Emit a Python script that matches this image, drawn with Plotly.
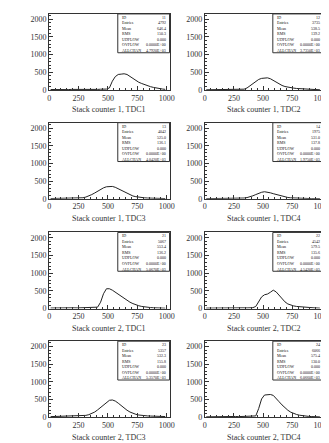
import plotly.graph_objects as go
import numpy as np

# ---- data ----
bin_centers = [12.5 + 25 * k for k in range(40)]

titles = ["Stack counter 1, TDC1", "Stack counter 1, TDC2",
          "Stack counter 1, TDC3", "Stack counter 1, TDC4",
          "Stack counter 2, TDC1", "Stack counter 2, TDC2",
          "Stack counter 2, TDC3", "Stack counter 2, TDC4"]

sc1_tdc1 = [15, 12, 18, 14, 20, 16, 13, 19, 17, 15, 21, 14, 18, 16, 20, 22, 19, 24, 21, 28,
            60, 250, 380, 440, 450, 460, 440, 380, 320, 260, 220, 185, 150, 120, 95, 75, 55, 40, 30, 20]
sc1_tdc2 = [8, 10, 9, 12, 10, 11, 13, 12, 14, 12, 15, 16, 18, 25, 60, 120, 190, 250, 300, 330,
            340, 345, 320, 270, 220, 170, 130, 100, 80, 65, 55, 45, 40, 30, 25, 20, 15, 12, 10, 8]
sc1_tdc3 = [8, 9, 10, 9, 11, 10, 12, 11, 13, 14, 18, 30, 50, 80, 120, 165, 215, 265, 310, 340,
            355, 350, 325, 285, 240, 190, 145, 110, 80, 60, 45, 35, 28, 22, 18, 15, 12, 10, 9, 8]
sc1_tdc4 = [5, 6, 5, 7, 6, 7, 8, 7, 9, 8, 10, 12, 15, 22, 35, 55, 85, 120, 155, 185,
            200, 190, 170, 145, 120, 95, 70, 50, 38, 28, 22, 18, 14, 12, 10, 8, 7, 6, 5, 5]
sc2_tdc1 = [15, 18, 14, 20, 17, 22, 19, 16, 21, 18, 23, 20, 25, 22, 27, 30, 40, 180, 420, 560,
            560, 520, 460, 400, 340, 280, 230, 180, 140, 105, 80, 60, 45, 35, 28, 22, 18, 15, 12, 10]
sc2_tdc2 = [12, 14, 11, 15, 13, 16, 14, 17, 15, 18, 16, 19, 17, 20, 18, 22, 25, 60, 200, 330,
            390, 410, 460, 520, 470, 370, 270, 190, 130, 95, 75, 60, 50, 42, 35, 30, 25, 20, 16, 12]
sc2_tdc3 = [20, 22, 25, 23, 26, 28, 27, 30, 32, 35, 38, 45, 55, 75, 105, 150, 210, 280, 360, 430,
            480, 490, 460, 400, 330, 260, 200, 150, 110, 85, 65, 52, 45, 40, 36, 33, 30, 28, 25, 22]
sc2_tdc4 = [14, 17, 15, 19, 16, 20, 18, 22, 19, 21, 24, 20, 23, 26, 24, 28, 30, 40, 250, 520,
            630, 640, 645, 620, 540, 440, 350, 270, 200, 145, 105, 80, 60, 45, 35, 28, 22, 18, 15, 12]

series = [sc1_tdc1, sc1_tdc2, sc1_tdc3, sc1_tdc4, sc2_tdc1, sc2_tdc2, sc2_tdc3, sc2_tdc4]
hist_ids = ["11", "12", "13", "14", "21", "22", "23", "24"]
stat_labels = ["ID", "Entries", "Mean", "RMS", "UDFLOW", "OVFLOW", "ALLCHAN"]

x_ticks = [0, 250, 500, 750, 1000]
y_ticks = [0, 500, 1000, 1500, 2000]

# ---- layout geometry (pixels) ----
W, H = 329, 443
col_x = [(40, 163), (199, 321)]
row_bottom = [83, 193, 304, 414]
frame_h = 77

fig = go.Figure()
font_fam = "Liberation Serif"

for i, (vals, title) in enumerate(zip(series, titles)):
    r, c = divmod(i, 2)
    n = i + 1
    xa = "xaxis" if n == 1 else f"xaxis{n}"
    ya = "yaxis" if n == 1 else f"yaxis{n}"
    xr = "x" if n == 1 else f"x{n}"
    yr = "y" if n == 1 else f"y{n}"
    x0, x1 = col_x[c]
    yb = row_bottom[r]
    yt = yb - frame_h
    fig.add_trace(go.Scatter(x=bin_centers, y=vals, mode="lines",
                             line=dict(color="#222", width=1),
                             xaxis=xr, yaxis=yr, showlegend=False))
    fig.layout[xa] = dict(domain=[x0 / W, x1 / W], anchor=yr, range=[0, 1024],
                          tickvals=x_ticks, ticks="inside", ticklen=4, tickcolor="#333",
                          minor=dict(dtick=50, ticks="inside", ticklen=2, tickcolor="#333"),
                          showgrid=False, zeroline=False, showline=True, linecolor="#333",
                          linewidth=1, mirror=True,
                          tickfont=dict(family=font_fam, size=8, color="#333"))
    fig.layout[ya] = dict(domain=[1 - yb / H, 1 - yt / H], anchor=xr, range=[0, 2150],
                          tickvals=y_ticks, ticks="inside", ticklen=4, tickcolor="#333",
                          minor=dict(dtick=100, ticks="inside", ticklen=2, tickcolor="#333"),
                          showgrid=False, zeroline=False, showline=True, linecolor="#333",
                          linewidth=1, mirror=True,
                          tickfont=dict(family=font_fam, size=8, color="#333"))
    # title below
    fig.add_annotation(x=(x0 + x1) / 2 / W, y=1 - (yb + 20) / H, xref="paper", yref="paper",
                       text=title, showarrow=False, xanchor="center", yanchor="middle",
                       font=dict(family=font_fam, size=8, color="#333"))
    # stats box
    bx0, by0 = 0.57, 0.49
    fig.add_shape(type="rect", xref=f"{xr} domain", yref=f"{yr} domain",
                  x0=bx0, x1=1, y0=by0, y1=1, line=dict(color="#333", width=1),
                  fillcolor="white")
    arr = np.array(vals, dtype=float)
    cx = np.array(bin_centers)
    entries = int(arr.sum())
    mean = (arr * cx).sum() / arr.sum()
    rms = np.sqrt((arr * (cx - mean) ** 2).sum() / arr.sum())
    stat_vals = [hist_ids[i], str(entries), f"{mean:.1f}", f"{rms:.1f}",
                 "0.000", "0.0000E+00", f"{arr.sum():.4E}"]
    for k, (lab, v) in enumerate(zip(stat_labels, stat_vals)):
        yy = 1 - (k + 0.6) * (1 - by0) / 7
        fig.add_annotation(x=bx0 + 0.02, y=yy, xref=f"{xr} domain", yref=f"{yr} domain",
                           text=lab, showarrow=False, xanchor="left", yanchor="middle",
                           font=dict(family=font_fam, size=4, color="#111"))
        fig.add_annotation(x=0.985, y=yy, xref=f"{xr} domain", yref=f"{yr} domain",
                           text=v, showarrow=False, xanchor="right", yanchor="middle",
                           font=dict(family=font_fam, size=4, color="#111"))

fig.update_layout(width=W, height=H, margin=dict(l=0, r=0, t=0, b=0),
                  paper_bgcolor="white", plot_bgcolor="white")
fig.write_html("out.html")
